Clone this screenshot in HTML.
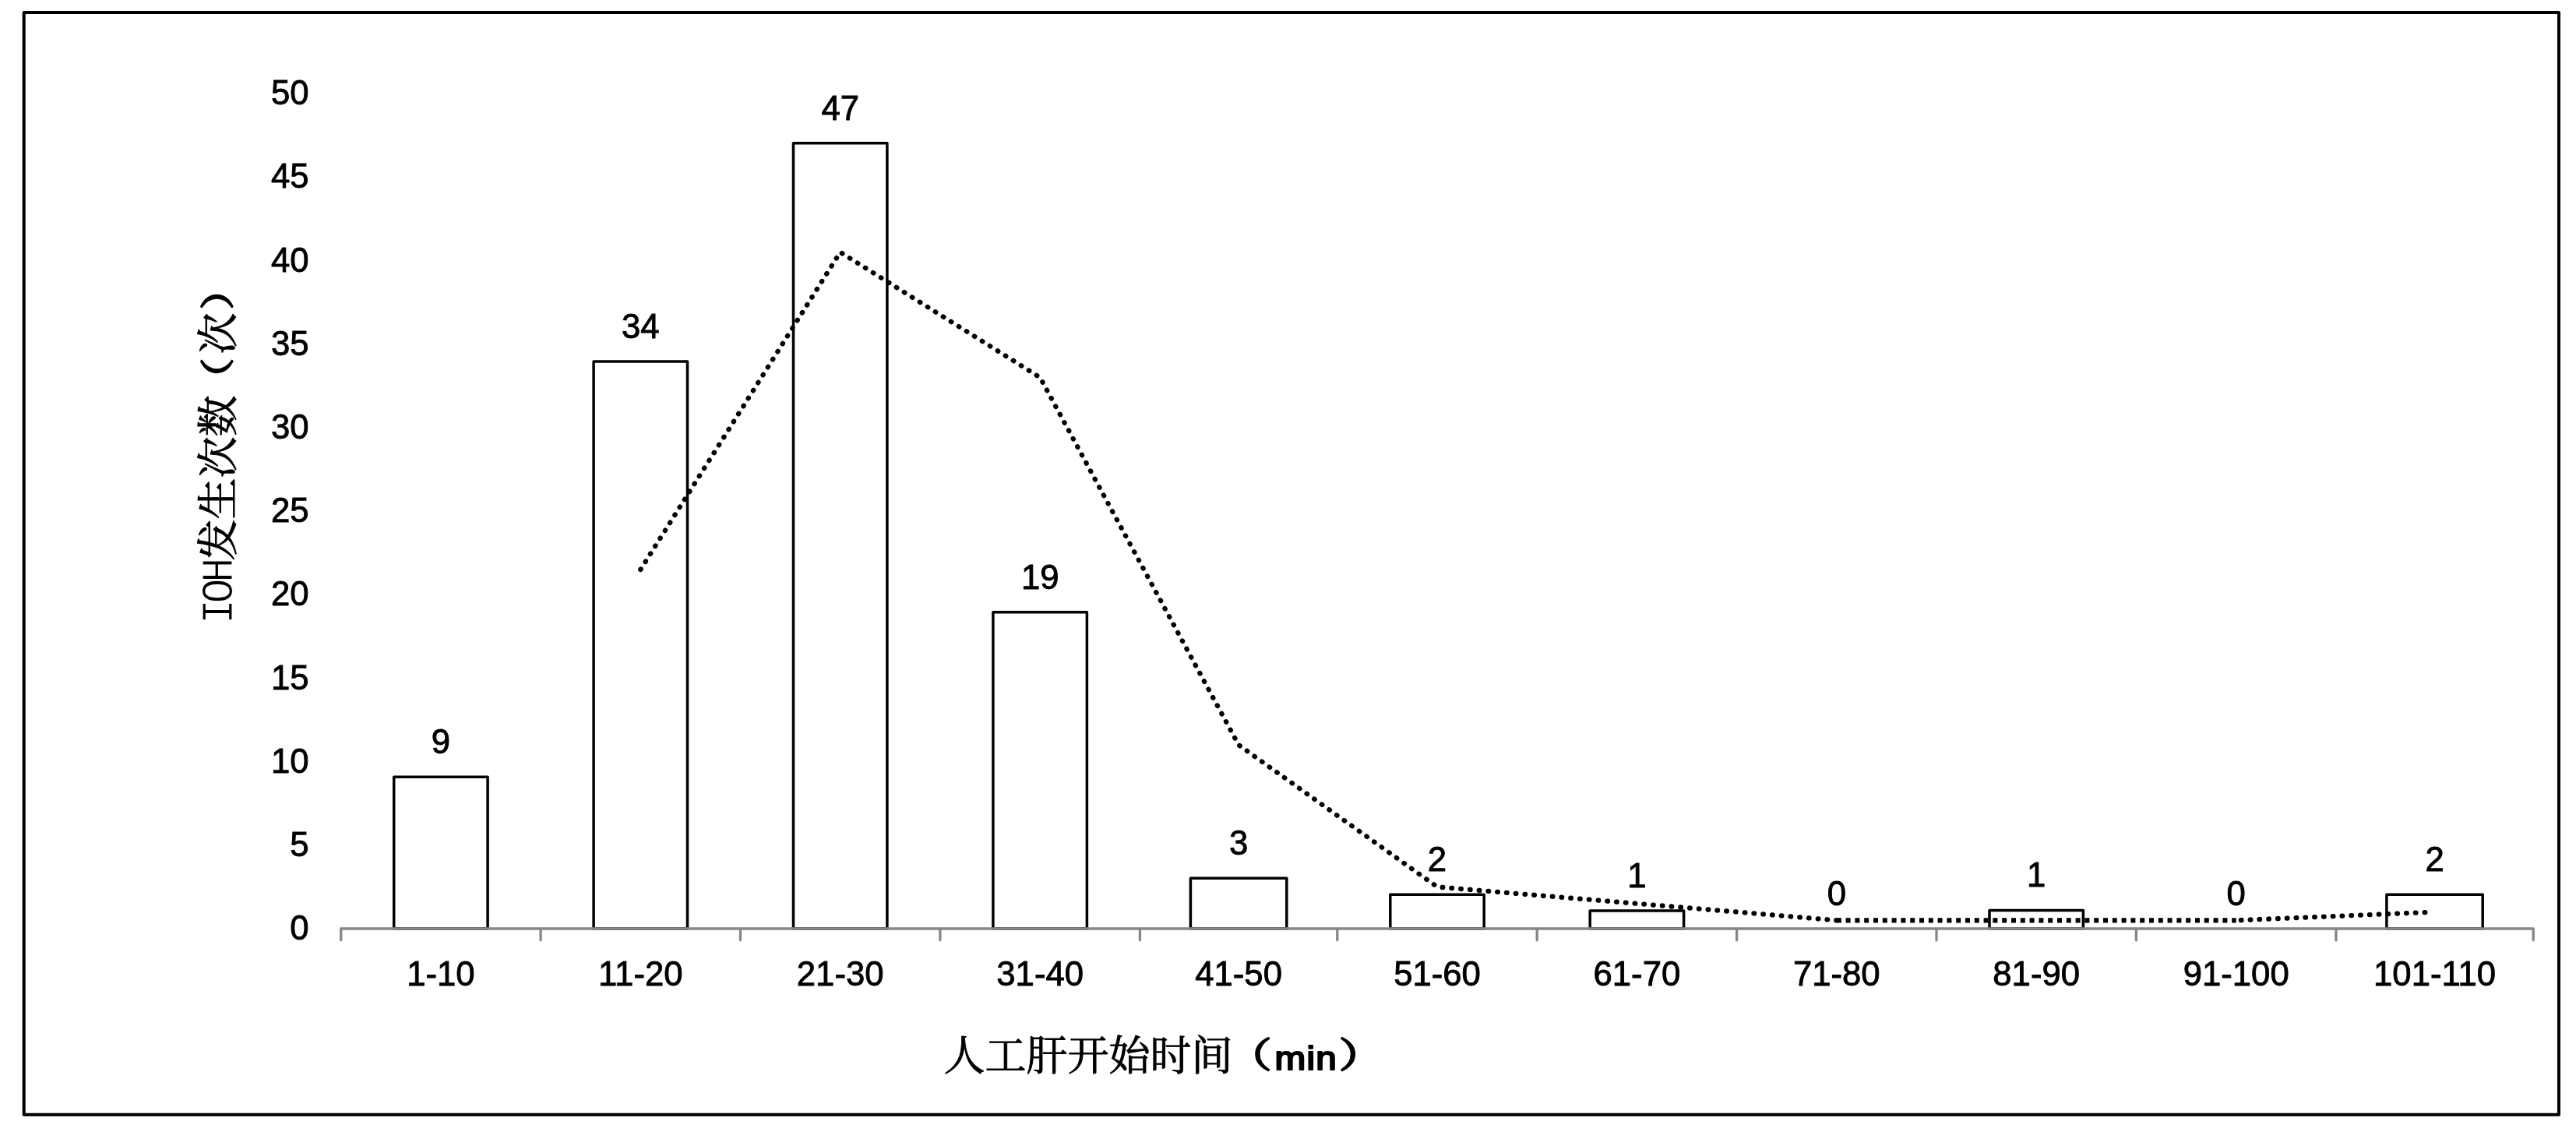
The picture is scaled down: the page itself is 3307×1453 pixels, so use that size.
<!DOCTYPE html>
<html lang="zh"><head><meta charset="utf-8"><title>IOH发生次数</title>
<style>html,body{margin:0;padding:0;background:#fff}svg{display:block;filter:grayscale(1)}.n{font-family:"Liberation Sans",sans-serif;font-size:43.7px;fill:#000;stroke:#000;stroke-width:0.9}.c{font-family:"Liberation Serif","Noto Serif CJK SC",serif;fill:#000}.cj{font-family:"Noto Serif CJK SC","Liberation Serif",serif;fill:#000;stroke:#000;stroke-width:0.9;stroke-linejoin:round;font-weight:400}.p{stroke-width:2.3}.m{font-family:"Liberation Mono",monospace;fill:#000;stroke:#fff;stroke-width:1.1}.b{font-family:"Liberation Sans",sans-serif;fill:#000;stroke:#000;stroke-width:2.2;stroke-linejoin:round}</style></head><body>
<svg width="3307" height="1453" viewBox="0 0 3307 1453">
<rect x="0" y="0" width="3307" height="1453" fill="#fff"/>
<rect x="30.7" y="16" width="3254.3" height="1414.8" fill="none" stroke="#000" stroke-width="4" stroke-linejoin="round"/>
<rect x="505.70" y="997.30" width="120.40" height="194.70" fill="#fff" stroke="#000" stroke-width="3.5" stroke-linejoin="round"/>
<rect x="762.10" y="463.90" width="120.40" height="728.10" fill="#fff" stroke="#000" stroke-width="3.5" stroke-linejoin="round"/>
<rect x="1018.50" y="183.80" width="120.40" height="1008.20" fill="#fff" stroke="#000" stroke-width="3.5" stroke-linejoin="round"/>
<rect x="1274.90" y="785.75" width="120.50" height="406.25" fill="#fff" stroke="#000" stroke-width="3.5" stroke-linejoin="round"/>
<rect x="1528.40" y="1127.30" width="123.40" height="64.70" fill="#fff" stroke="#000" stroke-width="3.5" stroke-linejoin="round"/>
<rect x="1784.80" y="1148.20" width="120.40" height="43.80" fill="#fff" stroke="#000" stroke-width="3.5" stroke-linejoin="round"/>
<rect x="2041.20" y="1168.90" width="120.40" height="23.10" fill="#fff" stroke="#000" stroke-width="3.5" stroke-linejoin="round"/>
<rect x="2554.00" y="1168.50" width="120.40" height="23.50" fill="#fff" stroke="#000" stroke-width="3.5" stroke-linejoin="round"/>
<rect x="3063.90" y="1148.20" width="123.30" height="43.80" fill="#fff" stroke="#000" stroke-width="3.5" stroke-linejoin="round"/>
<polyline fill="none" stroke="#000" stroke-width="6.3" stroke-linecap="round" stroke-dasharray="0.6 11.2" stroke-linejoin="round" points="822.3,731.0 1078.7,323.7 1335.2,484.5 1590.1,956.2 1845.0,1138.4 2101.4,1159.8 2357.8,1181.3"/>
<polyline fill="none" stroke="#000" stroke-width="6.3" stroke-dasharray="6 5.8" stroke-linejoin="round" points="2357.8,1181.3 2614.2,1181.3 2870.7,1181.3"/>
<polyline fill="none" stroke="#000" stroke-width="6.3" stroke-linecap="round" stroke-dashoffset="5.6" stroke-dasharray="0.6 11.2" stroke-linejoin="round" points="2870.7,1181.3 3114.6,1171.0"/>
<path d="M437.7 1206.8 V1192.0 H3252.2 V1206.8 M694.1 1192.0 V1206.8 M950.5 1192.0 V1206.8 M1206.9 1192.0 V1206.8 M1463.4 1192.0 V1206.8 M1716.8 1192.0 V1206.8 M1973.2 1192.0 V1206.8 M2229.6 1192.0 V1206.8 M2486.0 1192.0 V1206.8 M2742.4 1192.0 V1206.8 M2998.9 1192.0 V1206.8" fill="none" stroke="#868686" stroke-width="3.3" stroke-linecap="round" stroke-linejoin="round"/>
<text class="n" text-anchor="end" x="396.5" y="1206.1">0</text>
<text class="n" text-anchor="end" x="396.5" y="1098.9">5</text>
<text class="n" text-anchor="end" x="396.5" y="991.7">10</text>
<text class="n" text-anchor="end" x="396.5" y="884.5">15</text>
<text class="n" text-anchor="end" x="396.5" y="777.3">20</text>
<text class="n" text-anchor="end" x="396.5" y="670.1">25</text>
<text class="n" text-anchor="end" x="396.5" y="562.9">30</text>
<text class="n" text-anchor="end" x="396.5" y="455.7">35</text>
<text class="n" text-anchor="end" x="396.5" y="348.5">40</text>
<text class="n" text-anchor="end" x="396.5" y="241.3">45</text>
<text class="n" text-anchor="end" x="396.5" y="134.1">50</text>
<text class="n" text-anchor="middle" x="565.9" y="1265.4">1-10</text>
<text class="n" text-anchor="middle" x="822.3" y="1265.4">11-20</text>
<text class="n" text-anchor="middle" x="1078.7" y="1265.4">21-30</text>
<text class="n" text-anchor="middle" x="1335.2" y="1265.4">31-40</text>
<text class="n" text-anchor="middle" x="1590.1" y="1265.4">41-50</text>
<text class="n" text-anchor="middle" x="1845.0" y="1265.4">51-60</text>
<text class="n" text-anchor="middle" x="2101.4" y="1265.4">61-70</text>
<text class="n" text-anchor="middle" x="2357.8" y="1265.4">71-80</text>
<text class="n" text-anchor="middle" x="2614.2" y="1265.4">81-90</text>
<text class="n" text-anchor="middle" x="2870.7" y="1265.4">91-100</text>
<text class="n" text-anchor="middle" x="3125.6" y="1265.4">101-110</text>
<text class="n" text-anchor="middle" x="565.9" y="967.1">9</text>
<text class="n" text-anchor="middle" x="822.3" y="433.7">34</text>
<text class="n" text-anchor="middle" x="1078.7" y="153.6">47</text>
<text class="n" text-anchor="middle" x="1335.2" y="755.5">19</text>
<text class="n" text-anchor="middle" x="1590.1" y="1097.1">3</text>
<text class="n" text-anchor="middle" x="1845.0" y="1118.0">2</text>
<text class="n" text-anchor="middle" x="2101.4" y="1138.7">1</text>
<text class="n" text-anchor="middle" x="2357.8" y="1161.8">0</text>
<text class="n" text-anchor="middle" x="2614.2" y="1138.3">1</text>
<text class="n" text-anchor="middle" x="2870.7" y="1161.8">0</text>
<text class="n" text-anchor="middle" x="3125.6" y="1118.0">2</text>
<g transform="translate(298.3,798) rotate(-90)"><text class="m" font-size="57.2" text-anchor="middle" transform="scale(0.930,1)" x="13.98 42.47 71.08" y="0">IOH</text><text class="cj" font-size="53" x="78.5" y="0.7">发生次数</text><text class="cj p" font-size="53" transform="translate(285.5,0.7) translate(0,-20) scale(1,0.82) translate(0,20)" x="0" y="0">（</text><text class="cj" font-size="53" x="343.5" y="0.7">次</text><text class="cj p" font-size="53" transform="translate(400.5,0.7) translate(0,-20) scale(1,0.82) translate(0,20)" x="0" y="0">）</text></g>
<g><text class="cj" font-size="53" x="1211.5" y="1374">人工肝开始时间</text><text class="cj p" font-size="53" transform="translate(1574.5,1374) translate(0,-20) scale(1.1,0.85) translate(0,20)" x="0" y="0">（</text><text class="b" font-size="42.5" letter-spacing="1.1" transform="translate(1636.6,1373.2) scale(1.12,1)" x="0" y="0">min</text><text class="cj p" font-size="53" transform="translate(1718.5,1374) translate(0,-20) scale(1.1,0.85) translate(0,20)" x="0" y="0">）</text></g>
</svg></body></html>
